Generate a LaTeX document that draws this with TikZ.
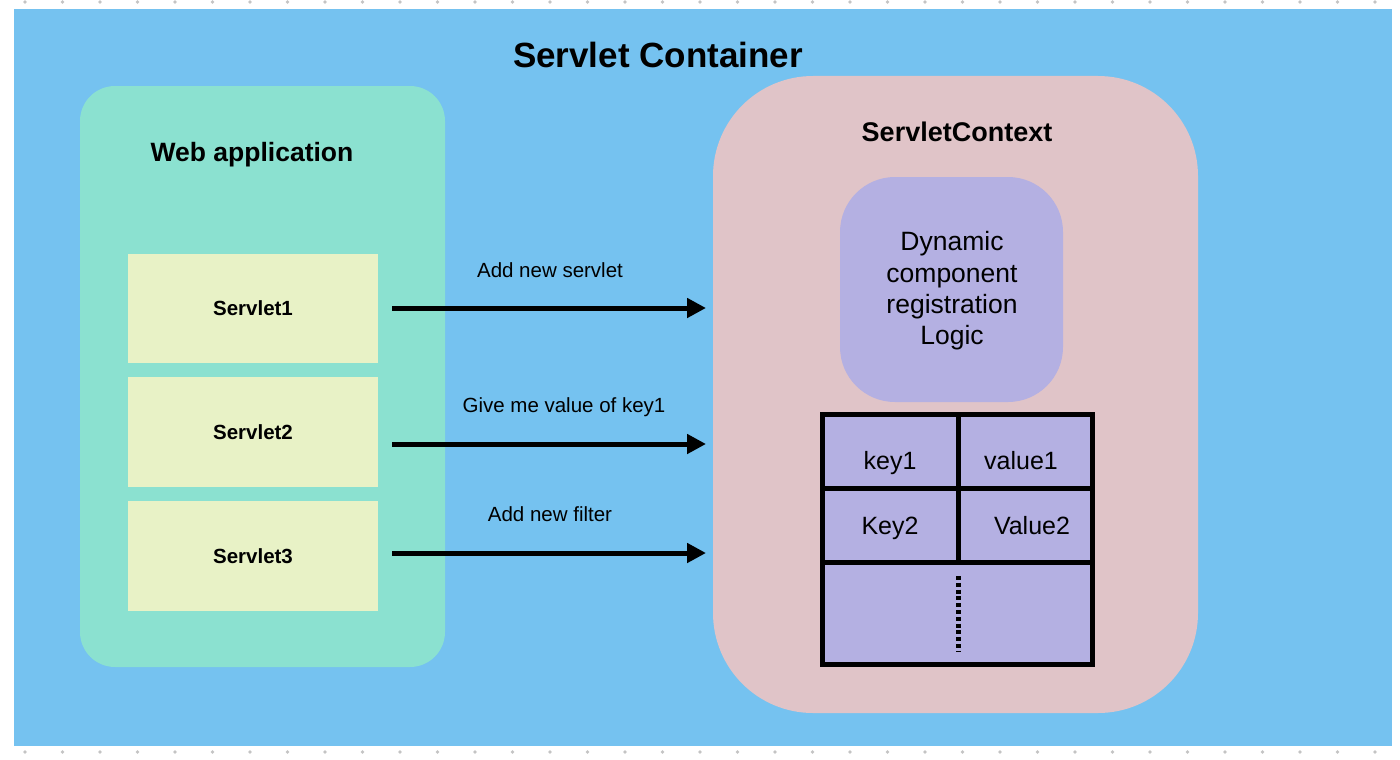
\documentclass[tikz,border=0pt]{standalone}
\usepackage{fontspec}
\setmainfont{Liberation Sans}
\usetikzlibrary{arrows.meta}
\definecolor{bgblue}{HTML}{75C2F0}
\definecolor{webteal}{HTML}{8BE1D0}
\definecolor{servletc}{HTML}{E8F2C6}
\definecolor{ctxpink}{HTML}{E0C4C8}
\definecolor{logicpur}{HTML}{B4B0E2}
\definecolor{dotgrey}{HTML}{C4C4C4}
\tikzset{
  box/.style={draw=none, inner sep=0pt, outer sep=0pt},
  servletbox/.style={box, fill=servletc, minimum width=250pt, minimum height=110pt, font=\fontsize{20.5}{24}\selectfont\bfseries},
  arr/.style={line width=5pt, -{Triangle[length=19pt,width=19pt]}},
  arrlabel/.style={font=\fontsize{20.5}{24}\selectfont, inner sep=0pt},
  tabletext/.style={font=\fontsize{25}{30}\selectfont, inner sep=0pt, anchor=base},
  tableline/.style={line width=5pt},
}
\begin{document}
\begin{tikzpicture}[x=1pt,y=-1pt]
\useasboundingbox (0,0) rectangle (1400,760);
% grey dots top and bottom
\foreach \i in {0,...,36} {
  \fill[dotgrey] (25+37.5*\i,2) circle (1.8pt);
  \fill[dotgrey] (25+37.5*\i,752) circle (1.8pt);
}
% container background
\fill[bgblue] (14,9) rectangle (1392,746);
\node[font=\fontsize{35}{40}\selectfont\bfseries, inner sep=0pt] (title) at (658,55) {Servlet Container};

% web application
\fill[webteal, rounded corners=35pt] (80,86) rectangle (445,667);
\node[font=\fontsize{26.5}{30}\selectfont\bfseries, inner sep=0pt] (webtitle) at (252,155) {Web application};
\node[servletbox, minimum height=109pt] (s1) at (253,308.5) {Servlet1};
\node[servletbox] (s2) at (253,432) {Servlet2};
\node[servletbox] (s3) at (253,556) {Servlet3};

% servlet context
\fill[ctxpink, rounded corners=100pt] (713,76) rectangle (1198,713);
\node[font=\fontsize{27}{30}\selectfont\bfseries, inner sep=0pt] (ctxtitle) at (957,132) {ServletContext};
\fill[logicpur, rounded corners=55pt] (840,177) rectangle (1063,402);
\node[font=\fontsize{26.5}{31.3}\selectfont, align=center, inner sep=0pt] (logic) at (952,291) {Dynamic\\component\\registration\\Logic};

% table
\fill[logicpur] (822.5,414.5) rectangle (1092.5,664.5);
\draw[tableline] (822.5,414.5) rectangle (1092.5,664.5);
\draw[tableline] (958,414.5) -- (958,562);
\draw[tableline] (822.5,488) -- (1092.5,488);
\draw[tableline] (822.5,562) -- (1092.5,562);
\draw[line width=5pt, dash pattern=on 4pt off 2.8pt] (958,576) -- (958,652);
\node[tabletext] (k1) at (890,469) {key1};
\node[tabletext] (v1) at (1021,469) {value1};
\node[tabletext] (k2) at (890,534) {Key2};
\node[tabletext] (v2) at (1032,534) {Value2};

% arrows
\coordinate (a1s) at (392,308);
\coordinate (a1e) at (706,308);
\coordinate (a2s) at (392,444);
\coordinate (a2e) at (706,444);
\coordinate (a3s) at (392,553);
\coordinate (a3e) at (706,553);
\draw[arr] (a1s) -- (a1e);
\draw[arr] (a2s) -- (a2e);
\draw[arr] (a3s) -- (a3e);
\node[arrlabel] (l1) at (550,270) {Add new servlet};
\node[arrlabel] (l2) at (564,407) {Give me value of key1};
\node[arrlabel] (l3) at (550,514) {Add new filter};
\end{tikzpicture}
\end{document}
